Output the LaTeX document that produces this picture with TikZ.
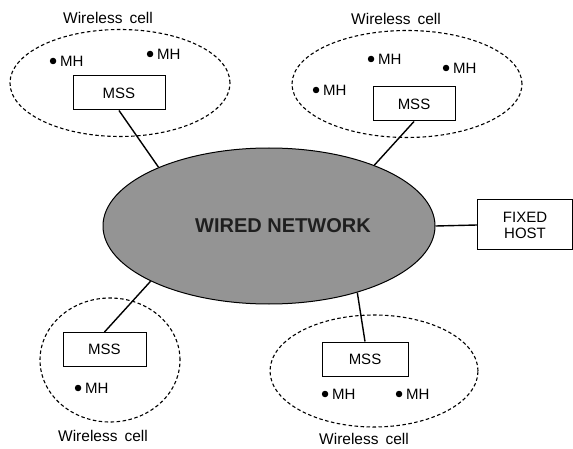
\documentclass[tikz,border=0pt]{standalone}
\usepackage{fontspec}
\setmainfont{Liberation Sans}
\usetikzlibrary{shapes.geometric}
\tikzset{
  lbl/.style={font=\fontsize{15.5}{17}\selectfont, inner sep=0pt},
  cell/.style={draw, ellipse, dashed, dash pattern=on 3.5pt off 2.5pt, line width=1.1pt, inner sep=0pt},
  mssbox/.style={draw, rectangle, line width=1pt, minimum height=34pt, inner sep=0pt, font=\fontsize{15}{16}\selectfont},
  mh/.style={font=\fontsize{15}{16}\selectfont, inner sep=0pt, anchor=west,
    label={[circle, fill, inner sep=0pt, minimum size=6.5pt, label distance=3.5pt]left:{}}},
  link/.style={line width=1.4pt},
}
\begin{document}
\begin{tikzpicture}[x=1pt,y=-1pt]
\useasboundingbox (0,0) rectangle (573,449);
% central wired network
\node[ellipse, draw, line width=1pt, fill=black!42, minimum width=332pt, minimum height=156pt, inner sep=0pt] (net) at (269,226) {};
\node[font=\bfseries\fontsize{20}{22}\selectfont, text=black!88, inner sep=0pt] (nettext) at (283,226) {WIRED NETWORK};
% fixed host
\node[draw, rectangle, line width=1pt, minimum width=95pt, minimum height=50pt, inner sep=0pt, align=center, font=\fontsize{15}{16}\selectfont] (host) at (525,225) {FIXED\\HOST};
% cells
\node[cell, minimum width=220pt, minimum height=107pt] (c1) at (120,83) {};
\node[cell, minimum width=230pt, minimum height=107pt] (c2) at (407,84) {};
\node[cell, minimum width=140pt, minimum height=124pt] (c3) at (110,360) {};
\node[cell, minimum width=208pt, minimum height=112pt] (c4) at (374,371) {};
% titles
\node[lbl] (t1) at (108,18) {Wireless\hspace{0.45em}cell};
\node[lbl] (t2) at (396,19) {Wireless\hspace{0.45em}cell};
\node[lbl] (t3) at (103,436) {Wireless\hspace{0.45em}cell};
\node[lbl] (t4) at (364,439) {Wireless\hspace{0.45em}cell};
% MSS boxes
\node[mssbox, minimum width=92pt] (m1) at (119,93) {MSS};
\node[mssbox, minimum width=82pt] (m2) at (414,104) {MSS};
\node[mssbox, minimum width=83pt] (m3) at (104.5,349.5) {MSS};
\node[mssbox, minimum width=86pt] (m4) at (365,359) {MSS};
% mobile hosts
\node[mh] (h1) at (60,61) {MH};
\node[mh] (h2) at (157,54) {MH};
\node[mh] (h3) at (323,90) {MH};
\node[mh] (h4) at (378,59) {MH};
\node[mh] (h5) at (453,68) {MH};
\node[mh] (h6) at (85,388) {MH};
\node[mh] (h7) at (332,394) {MH};
\node[mh] (h8) at (406,394) {MH};
% links
\draw[link] (m1.south) -- (net.152);
\draw[link] (m2.south) -- (net.30);
\draw[link] (m3.north) -- (net.205);
\draw[link] (m4.north) -- (net.323);
\draw[link] (net.east) -- (host.west);
\end{tikzpicture}
\end{document}
